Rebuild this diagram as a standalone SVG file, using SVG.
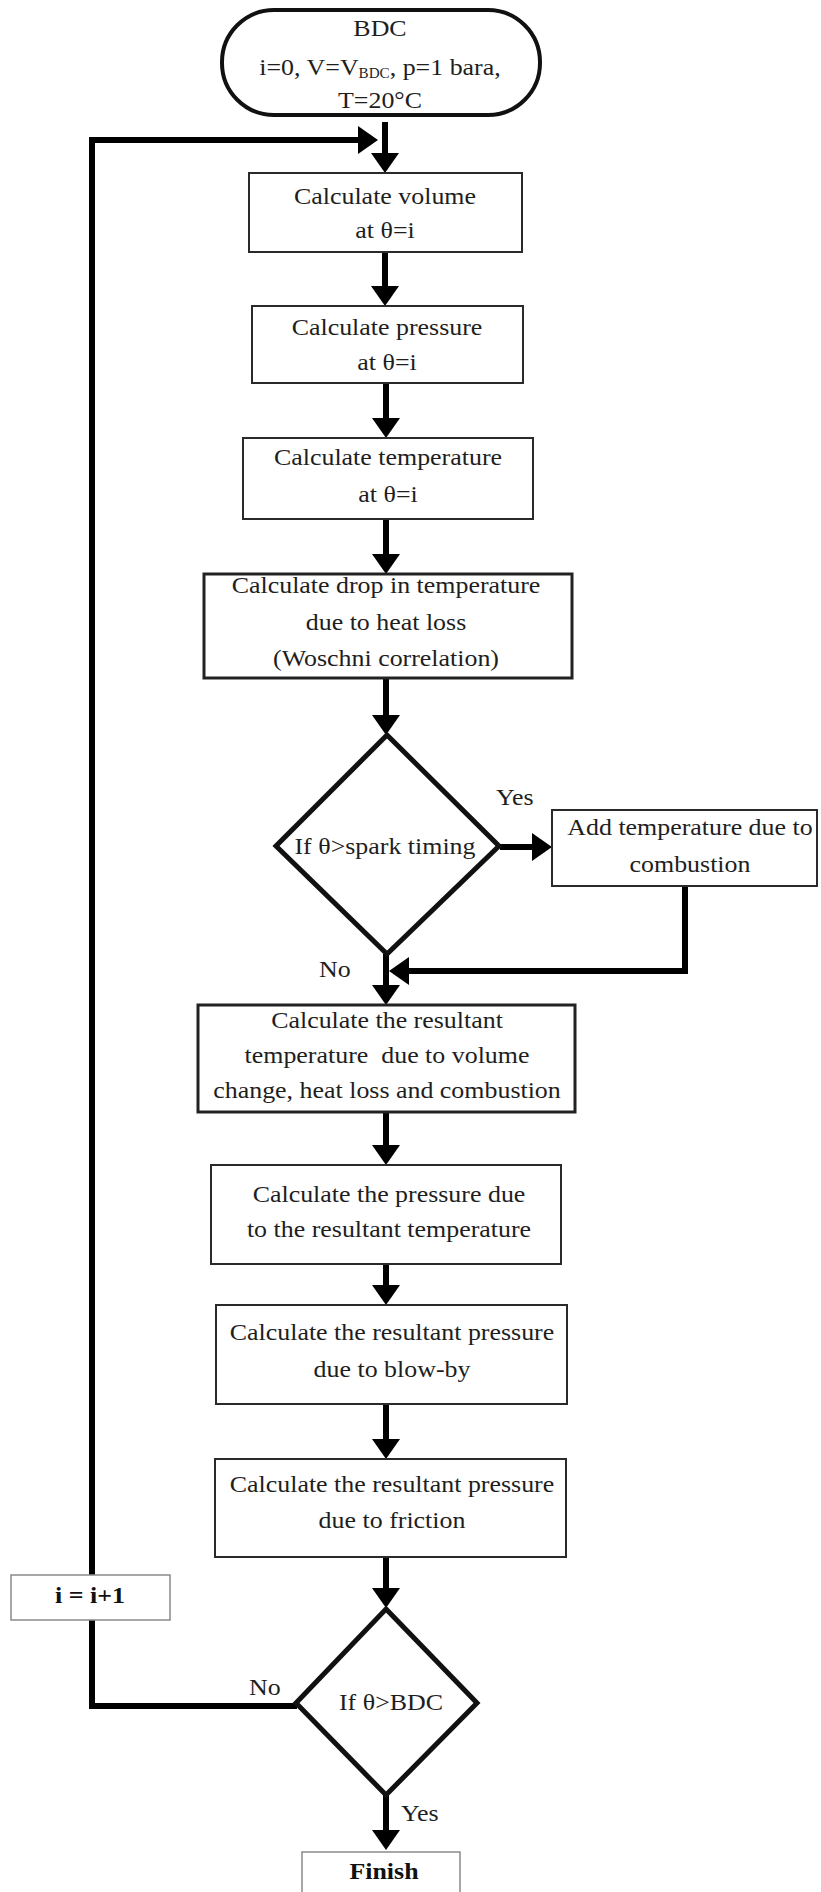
<svg xmlns="http://www.w3.org/2000/svg" width="821" height="1892" viewBox="0 0 821 1892">
  <style>
    .bg { fill: #ffffff; }
    .box { fill: #ffffff; stroke: #2a2a2a; stroke-width: 2; }
    .box-heavy { fill: #ffffff; stroke: #222222; stroke-width: 3; }
    .box-light { fill: #ffffff; stroke: #8a8a8a; stroke-width: 1.5; }
    .term { fill: #ffffff; stroke: #111111; stroke-width: 4; }
    .dec { fill: #ffffff; stroke: #111111; stroke-width: 5; stroke-linejoin: miter; }
    .t { font-family: "Liberation Serif", "Times New Roman", serif; font-size: 24px; fill: #1e1e1e; text-anchor: middle; }
    .tb { font-family: "Liberation Serif", "Times New Roman", serif; font-size: 24px; font-weight: bold; fill: #111111; text-anchor: middle; }
    .lbl { font-family: "Liberation Serif", "Times New Roman", serif; font-size: 24px; fill: #1e1e1e; }
    .sub { font-size: 14px; }
    .wire { fill: none; stroke: #000000; stroke-width: 6; stroke-linejoin: miter; stroke-linecap: butt; }
  </style>
  <defs>
    <marker id="arrow" markerUnits="userSpaceOnUse" viewBox="0 0 20 28" refX="10" refY="14" markerWidth="20" markerHeight="28" orient="auto">
      <path d="M0,0 L20,14 L0,28 Z" fill="#000000"/>
    </marker>
  </defs>

  <rect class="bg" x="0" y="0" width="821" height="1892"/>

  <!-- connectors -->
  <g id="connectors">
    <line class="wire" x1="385" y1="122" x2="385" y2="163" marker-end="url(#arrow)"/>
    <!-- loop back: from i=i+1 up the left side and into the main line -->
    <polyline class="wire" points="92,1576 92,140 368,140" marker-end="url(#arrow)"/>
    <line class="wire" x1="385" y1="252" x2="385" y2="296" marker-end="url(#arrow)"/>
    <line class="wire" x1="386" y1="383" x2="386" y2="428" marker-end="url(#arrow)"/>
    <line class="wire" x1="386" y1="519" x2="386" y2="564" marker-end="url(#arrow)"/>
    <line class="wire" x1="386" y1="678" x2="386" y2="725" marker-end="url(#arrow)"/>
    <line class="wire" x1="500" y1="847" x2="542" y2="847" marker-end="url(#arrow)"/>
    <polyline class="wire" points="685,886 685,971 399,971" marker-end="url(#arrow)"/>
    <line class="wire" x1="386" y1="954" x2="386" y2="995" marker-end="url(#arrow)"/>
    <line class="wire" x1="386" y1="1112" x2="386" y2="1155" marker-end="url(#arrow)"/>
    <line class="wire" x1="386" y1="1264" x2="386" y2="1295" marker-end="url(#arrow)"/>
    <line class="wire" x1="386" y1="1404" x2="386" y2="1449" marker-end="url(#arrow)"/>
    <line class="wire" x1="386" y1="1557" x2="386" y2="1598" marker-end="url(#arrow)"/>
    <polyline class="wire" points="297,1706 92,1706 92,1620"/>
    <line class="wire" x1="386" y1="1795" x2="386" y2="1840" marker-end="url(#arrow)"/>
  </g>

  <!-- start: BDC -->
  <g id="start">
    <rect class="term" x="222" y="10" width="318" height="105" rx="52" ry="52"/>
    <g transform="translate(380 0) scale(1.08 1)">
      <text class="t" x="0" y="36">BDC</text>
      <text class="t" x="0" y="75">i=0, V=V<tspan class="sub" dy="3">BDC</tspan><tspan dy="-3">, p=1 bara,</tspan></text>
      <text class="t" x="0" y="108">T=20°C</text>
    </g>
  </g>

  <g id="volume">
    <rect class="box" x="249" y="173" width="273" height="79"/>
    <g transform="translate(385 0) scale(1.08 1)">
      <text class="t" x="0" y="204">Calculate volume</text>
      <text class="t" x="0" y="238">at θ=i</text>
    </g>
  </g>

  <g id="pressure">
    <rect class="box" x="252" y="306" width="271" height="77"/>
    <g transform="translate(387 0) scale(1.08 1)">
      <text class="t" x="0" y="335">Calculate pressure</text>
      <text class="t" x="0" y="370">at θ=i</text>
    </g>
  </g>

  <g id="temperature">
    <rect class="box" x="243" y="438" width="290" height="81"/>
    <g transform="translate(388 0) scale(1.08 1)">
      <text class="t" x="0" y="465">Calculate temperature</text>
      <text class="t" x="0" y="502">at θ=i</text>
    </g>
  </g>

  <g id="heat-loss">
    <rect class="box-heavy" x="204" y="574" width="368" height="104"/>
    <g transform="translate(386 0) scale(1.08 1)">
      <text class="t" x="0" y="593">Calculate drop in temperature</text>
      <text class="t" x="0" y="630">due to heat loss</text>
      <text class="t" x="0" y="666">(Woschni correlation)</text>
    </g>
  </g>

  <g id="spark-check">
    <polygon class="dec" points="387,735 499,846 387,954 276,846"/>
    <g transform="translate(385 0) scale(1.08 1)">
      <text class="t" x="0" y="854">If θ&gt;spark timing</text>
    </g>
    <g transform="translate(496 0) scale(1.08 1)">
      <text class="lbl" x="0" y="805">Yes</text>
    </g>
    <g transform="translate(319 0) scale(1.08 1)">
      <text class="lbl" x="0" y="977">No</text>
    </g>
  </g>

  <g id="combustion">
    <rect class="box" x="552" y="810" width="265" height="76"/>
    <g transform="translate(690 0) scale(1.08 1)">
      <text class="t" x="0" y="835">Add temperature due to</text>
      <text class="t" x="0" y="872">combustion</text>
    </g>
  </g>

  <g id="resultant-temperature">
    <rect class="box-heavy" x="198" y="1005" width="377" height="107"/>
    <g transform="translate(387 0) scale(1.08 1)">
      <text class="t" x="0" y="1028">Calculate the resultant</text>
      <text class="t" x="0" y="1063" xml:space="preserve">temperature  due to volume</text>
      <text class="t" x="0" y="1098">change, heat loss and combustion</text>
    </g>
  </g>

  <g id="pressure-from-temperature">
    <rect class="box" x="211" y="1165" width="350" height="99"/>
    <g transform="translate(389 0) scale(1.08 1)">
      <text class="t" x="0" y="1202">Calculate the pressure due</text>
      <text class="t" x="0" y="1237">to the resultant temperature</text>
    </g>
  </g>

  <g id="blow-by">
    <rect class="box" x="216" y="1305" width="351" height="99"/>
    <g transform="translate(392 0) scale(1.08 1)">
      <text class="t" x="0" y="1340">Calculate the resultant pressure</text>
      <text class="t" x="0" y="1377">due to blow-by</text>
    </g>
  </g>

  <g id="friction">
    <rect class="box" x="215" y="1459" width="351" height="98"/>
    <g transform="translate(392 0) scale(1.08 1)">
      <text class="t" x="0" y="1492">Calculate the resultant pressure</text>
      <text class="t" x="0" y="1528">due to friction</text>
    </g>
  </g>

  <g id="increment">
    <rect class="box-light" x="11" y="1575" width="159" height="45"/>
    <g transform="translate(90 0) scale(1.08 1)">
      <text class="tb" x="0" y="1603">i = i+1</text>
    </g>
  </g>

  <g id="bdc-check">
    <polygon class="dec" points="386,1609 477,1703 386,1795 296,1703"/>
    <g transform="translate(391 0) scale(1.08 1)">
      <text class="t" x="0" y="1710">If θ&gt;BDC</text>
    </g>
    <g transform="translate(249 0) scale(1.08 1)">
      <text class="lbl" x="0" y="1695">No</text>
    </g>
    <g transform="translate(401 0) scale(1.08 1)">
      <text class="lbl" x="0" y="1821">Yes</text>
    </g>
  </g>

  <g id="finish">
    <rect class="box-light" x="302" y="1852" width="158" height="60"/>
    <g transform="translate(384 0) scale(1.08 1)">
      <text class="tb" x="0" y="1879">Finish</text>
    </g>
  </g>
</svg>
